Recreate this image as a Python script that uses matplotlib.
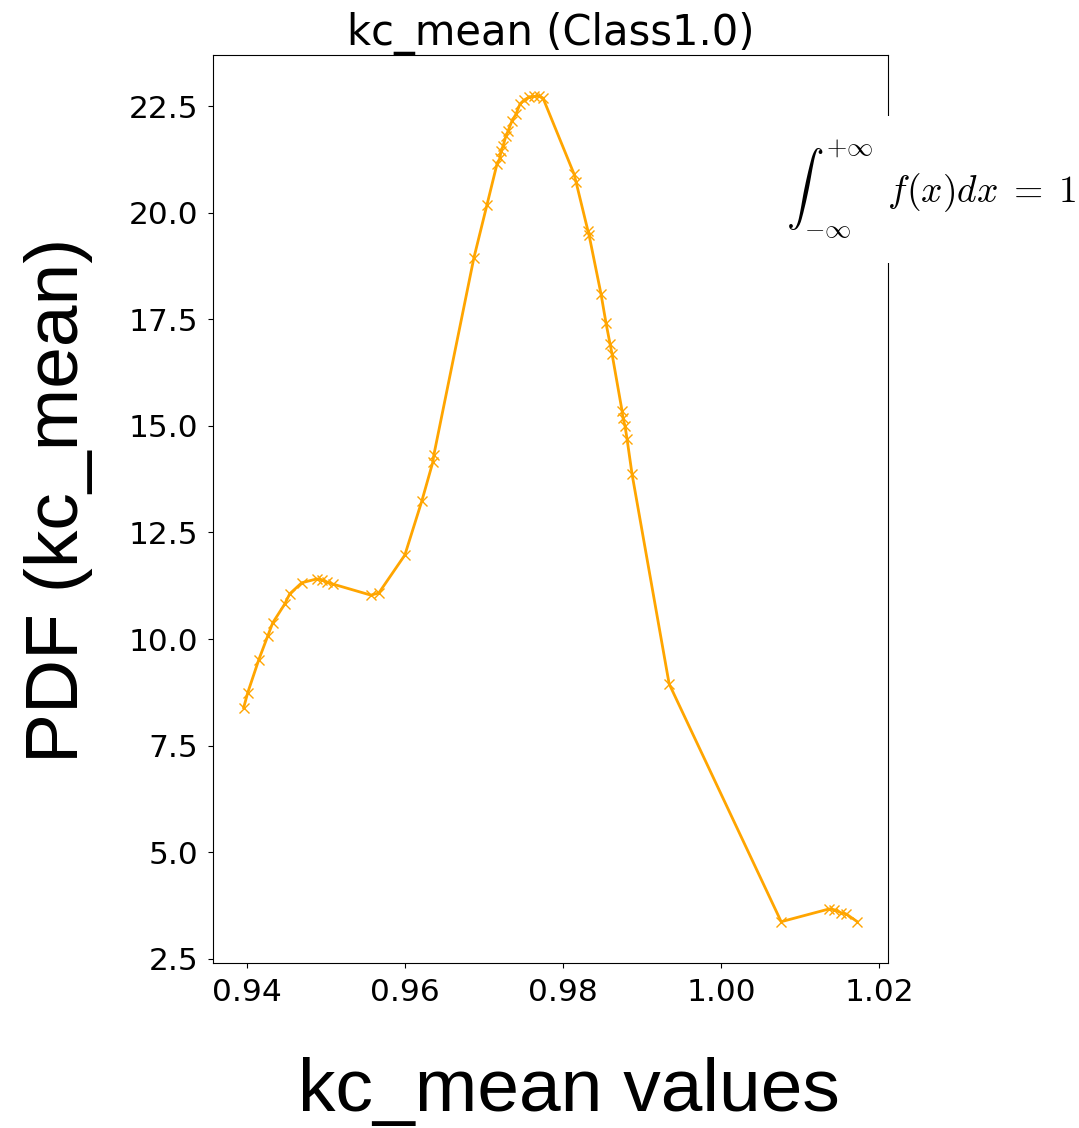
import numpy as np
import matplotlib.pyplot as plt

# KDE evaluated at the kc_mean samples of class 1.0
kc_mean = [0.93962, 0.94013, 0.94152, 0.94266, 0.94329, 0.94481, 0.94544, 0.94696,
           0.94886, 0.94949, 0.95013, 0.95089, 0.95570, 0.95671, 0.96000, 0.96215,
           0.96354, 0.96367, 0.96873, 0.97038, 0.97165, 0.97203, 0.97215, 0.97241,
           0.97278, 0.97304, 0.97354, 0.97405, 0.97456, 0.97506, 0.97570, 0.97633,
           0.97696, 0.97747, 0.98139, 0.98165, 0.98316, 0.98329, 0.98481, 0.98544,
           0.98595, 0.98620, 0.98747, 0.98759, 0.98785, 0.98810, 0.98873, 0.99342,
           1.00759, 1.01367, 1.01430, 1.01519, 1.01582, 1.01722]
pdf = [8.39, 8.74, 9.51, 10.07, 10.38, 10.82, 11.06, 11.32,
       11.41, 11.39, 11.34, 11.29, 11.03, 11.08, 11.97, 13.24,
       14.15, 14.32, 18.94, 20.18, 21.14, 21.28, 21.44, 21.56,
       21.80, 21.91, 22.15, 22.31, 22.55, 22.64, 22.71, 22.73,
       22.73, 22.69, 20.91, 20.72, 19.57, 19.48, 18.09, 17.41,
       16.92, 16.69, 15.35, 15.18, 14.99, 14.69, 13.87, 8.95,
       3.37, 3.67, 3.65, 3.58, 3.55, 3.37]

plt.rcParams['mathtext.fontset'] = 'cm'

fig = plt.figure(figsize=(10.79, 11.28), dpi=100)
ax = fig.add_axes([0.1974, 0.1463, 0.6256, 0.8049])

ax.plot(kc_mean, pdf, color='orange', marker='x', markersize=7, linewidth=2)
ax.set_title('kc_mean (Class1.0)', fontsize=30, pad=5)
ax.tick_params(labelsize=22.5, pad=7)
ax.set_yticks([2.5, 5.0, 7.5, 10.0, 12.5, 15.0, 17.5, 20.0, 22.5])
ax.set_xticks([0.94, 0.96, 0.98, 1.00, 1.02])
ax.set_xlabel('kc_mean values', fontsize=54, family='Liberation Sans', labelpad=36)
ax.set_ylabel('PDF (kc_mean)', fontsize=54, family='Liberation Sans', labelpad=26)
ax.xaxis.label.set_x(0.527)
ax.yaxis.label.set_y(0.51)

fig.text(0.728, 0.832, r'$\int_{-\infty}^{+\infty}\;\, f(x)dx\; =\; 1$', fontsize=27,
         va='center', ha='left',
         bbox=dict(facecolor='white', edgecolor='none', pad=16))

fig.savefig('out.png', dpi=100)
